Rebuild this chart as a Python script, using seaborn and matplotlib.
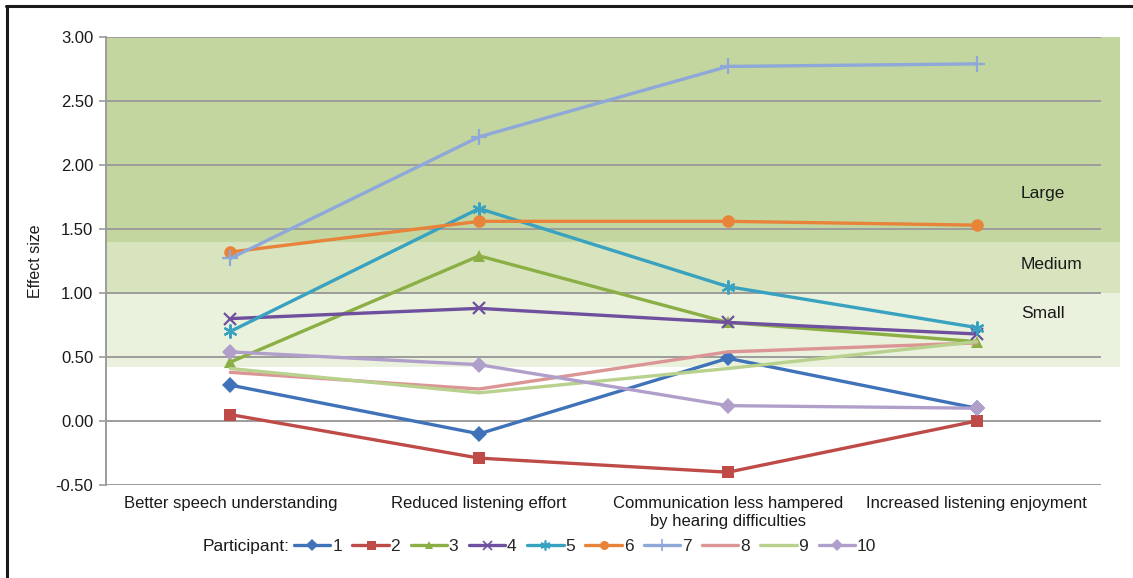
import matplotlib
matplotlib.use("Agg")
import matplotlib.pyplot as plt
from matplotlib.lines import Line2D
import pandas as pd
import seaborn as sns

# Outcome domains on the x axis
outcomes = [
    "Better speech understanding",
    "Reduced listening effort",
    "Communication less hampered\nby hearing difficulties",
    "Increased listening enjoyment",
]

# Effect size per participant across the four outcomes
p1 = [0.28, -0.10, 0.49, 0.10]
p2 = [0.05, -0.29, -0.40, 0.00]
p3 = [0.46, 1.29, 0.77, 0.62]
p4 = [0.80, 0.88, 0.77, 0.68]
p5 = [0.70, 1.66, 1.05, 0.73]
p6 = [1.32, 1.56, 1.56, 1.53]
p7 = [1.27, 2.22, 2.77, 2.79]
p8 = [0.38, 0.25, 0.54, 0.61]
p9 = [0.41, 0.22, 0.41, 0.62]
p10 = [0.54, 0.44, 0.12, 0.10]

participants = ["1", "2", "3", "4", "5", "6", "7", "8", "9", "10"]
series = [p1, p2, p3, p4, p5, p6, p7, p8, p9, p10]

# Effect-size bands (lower, upper, label)
band_edges = [0.42, 1.00, 1.40, 3.00]
band_labels = ["Small", "Medium", "Large"]

colors = ["#3F72B8", "#BE4B48", "#8BAF45", "#6E509E", "#38A2C0",
          "#E8833A", "#8EA8D9", "#DB9594", "#B8D28E", "#B09FCB"]
markers = ["D", "s", "^", "x", (6, 2, 0), "o", "+", None, None, "D"]
msizes = [8, 9, 8, 9, 10, 9, 12, 0, 0, 8]
band_colors = ["#EAF1DD", "#D7E4BD", "#C4D69F"]
line_art = ("x", "+", (6, 2, 0))

rows = []
for pid, vals in zip(participants, series):
    for o, v in zip(outcomes, vals):
        rows.append({"Participant": pid, "Outcome": o, "Effect size": v})
df = pd.DataFrame(rows)

sns.set_theme(style="white")
plt.rcParams["font.family"] = ["Liberation Sans", "DejaVu Sans"]

fig = plt.figure(figsize=(11.33, 5.78), dpi=100)
ax = fig.add_axes([106 / 1133, 1 - 485 / 578, 995 / 1133, 448 / 578])

# Shaded effect-size bands, running slightly past the plot's right edge
for (lo, hi), c in zip(zip(band_edges[:-1], band_edges[1:]), band_colors):
    ax.axhspan(lo, hi, xmin=0, xmax=(1120 - 106) / 995, color=c,
               lw=0, zorder=0, clip_on=False)

for y in [-0.5, 0.0, 0.5, 1.0, 1.5, 2.0, 2.5, 3.0]:
    ax.axhline(y, color="#9C9C9C", lw=1.4, zorder=1)

handles = []
for pid, c, m, ms in zip(participants, colors, markers, msizes):
    sub = df[df["Participant"] == pid]
    sns.lineplot(data=sub, x="Outcome", y="Effect size", ax=ax, color=c,
                 marker=m, markersize=ms,
                 markeredgewidth=1.6 if m in line_art else 0,
                 markeredgecolor=c, lw=2.4, zorder=3, sort=False, legend=False)
    handles.append(Line2D([], [], color=c, lw=2.4, marker=m,
                          markersize=ms * 0.72,
                          markeredgewidth=1.2 if m in line_art else 0,
                          markeredgecolor=c))

ax.set_xlim(-0.5, 3.5)
ax.set_ylim(-0.5, 3.0)
ax.set_yticks([-0.5, 0.0, 0.5, 1.0, 1.5, 2.0, 2.5, 3.0])
ax.set_yticklabels([f"{v:.2f}" for v in ax.get_yticks()])
ax.set_xticks(range(len(outcomes)))
ax.set_xticklabels(outcomes)
ax.set_xlabel("")
ax.set_ylabel("Effect size", fontsize=11.5, labelpad=9, color="#1a1a1a")
ax.tick_params(axis="y", length=5, width=1.2, color="#9C9C9C", labelsize=12,
               labelcolor="#1a1a1a", left=True, pad=4)
ax.tick_params(axis="x", length=0, labelsize=12, labelcolor="#1a1a1a", pad=8)
for s in ["top", "right", "bottom"]:
    ax.spines[s].set_visible(False)
ax.spines["left"].set_color("#9C9C9C")
ax.spines["left"].set_linewidth(1.4)
ax.set_facecolor("none")

for lab, y in zip(band_labels, [0.84, 1.22, 1.78]):
    ax.text((1021 - 106) / 995, y, lab, transform=ax.get_yaxis_transform(),
            fontsize=12.5, color="#1a1a1a", va="center", ha="left")

fig.text(203 / 1133, 1 - 546 / 578, "Participant:", fontsize=12.5,
         color="#1a1a1a", va="center", ha="left")
fig.legend(handles, participants, loc="center left",
           bbox_to_anchor=(294 / 1133, 1 - 546 / 578), ncol=10, frameon=False,
           fontsize=12.5, handlelength=2.1, handletextpad=0.1,
           columnspacing=0.6, borderaxespad=0, borderpad=0)

# Frame lines along the top and left of the figure
fig.add_artist(Line2D([6 / 1133, 1], [1 - 6 / 578, 1 - 6 / 578],
                      color="#1a1a1a", lw=2.2, transform=fig.transFigure))
fig.add_artist(Line2D([7 / 1133, 7 / 1133], [0, 1 - 6 / 578],
                      color="#1a1a1a", lw=2.2, transform=fig.transFigure))

fig.savefig("out.png", dpi=100, facecolor="white")
